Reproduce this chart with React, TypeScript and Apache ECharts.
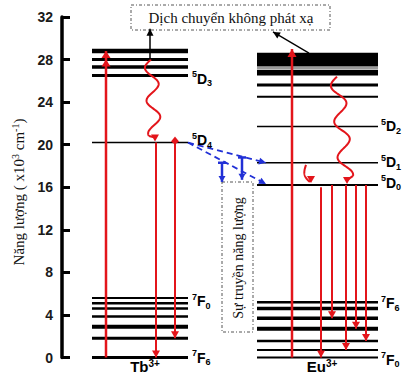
import React, { useEffect, useRef } from "react";
import * as echarts from "echarts";

// ---- data (energies in 10^3 cm^-1) ----
const yMin = 0;
const yMax = 32;
const yStep = 4;

const tbLevels = [0, 1.8, 2.9, 3.85, 4.6, 5.1, 5.6, 20.2, 26.5, 27.3, 28.0, 28.8];
const euLevels = [0, 0.7, 1.55, 2.7, 3.7, 4.6, 5.2, 16.2, 18.3, 21.7, 24.5, 25.6];
const euBand = [
  [26.5, 27.05],
  [27.35, 28.65],
];
const tbExcitation = [0, 28.8];
const tbExcitationHeads = [28.0, 28.8];
const euExcitation = [0, 29.0];
const tbRelaxation = [28.0, 20.3];
const euRelaxation = [26.4, 16.3];
const euD1D0 = [18.1, 16.4];
const tbEmission = [
  [20.2, 0],
  [20.2, 1.8],
];
const euEmission = [
  [16.0, 0],
  [16.2, 3.7],
  [16.2, 0.7],
  [16.2, 2.7],
  [16.2, 1.55],
];
const transferArrows = [
  [20.2, 18.3],
  [20.2, 16.3],
];
const transferBars = [
  [18.3, 16.5],
  [18.8, 16.7],
];
const nonRadTb = [28.0, 30.9];
const nonRadEu = [28.6, 30.6];

const tbLabelNames = ["5|D|3", "5|D|4", "7|F|0", "7|F|6"];
const tbLabelE = [26.2, 20.4, 5.3, 0];
const euLabelNames = ["5|D|2", "5|D|1", "5|D|0", "7|F|6", "7|F|0"];
const euLabelE = [21.75, 18.35, 16.4, 5.1, -0.2];

// ---- layout (x axis spans the page in px) ----
const TB_X = [92, 188];
const EU_X = [257, 378];
const tbThick = [3, 3, 4, 2.5, 2.5, 2.5, 2, 1.5, 3, 3.5, 3, 4.5];
const euThick = [2, 2, 2.5, 4, 3.5, 3.5, 2.5, 2, 1.5, 1.5, 2, 3];
const TB_EXC_X = 106;
const EU_EXC_X = 292;
const TB_EMI_X = [156, 175];
const EU_EMI_X = [321, 332, 346, 356, 366];
const TB_LABEL_X = 192;
const EU_LABEL_X = 381;

const RED = "#e3151b";
const BLUE = "#2130d6";

function App() {
  const ref = useRef<HTMLDivElement>(null);
  useEffect(() => {
    const chart = echarts.init(ref.current!, undefined, { renderer: "svg" });

    const renderAll = (_params: any, api: any) => {
      const c = (x: number, e: number) => api.coord([x, e]);
      const ch: any[] = [];
      const line = (a: number[], b: number[], stroke: string, w: number, dash?: number[]) =>
        ch.push({
          type: "line",
          shape: { x1: a[0], y1: a[1], x2: b[0], y2: b[1] },
          style: { stroke, lineWidth: w, lineDash: dash },
        });
      const head = (tip: number[], from: number[], color: string, len: number, hw: number) => {
        const dx = tip[0] - from[0];
        const dy = tip[1] - from[1];
        const L = Math.hypot(dx, dy) || 1;
        const ux = dx / L, uy = dy / L;
        const nx = -uy, ny = ux;
        const bx = tip[0] - ux * len, by = tip[1] - uy * len;
        ch.push({
          type: "polygon",
          shape: { points: [tip, [bx + nx * hw, by + ny * hw], [bx - nx * hw, by - ny * hw]] },
          style: { fill: color },
        });
      };
      const arrow = (a: number[], b: number[], color: string, w: number, len = 7, hw = 4, dash?: number[]) => {
        line(a, b, color, w, dash);
        head(b, a, color, len, hw);
      };
      const wave = (a: number[], b: number[], amp: number, periods: number, color: string, w: number) => {
        const dx = b[0] - a[0], dy = b[1] - a[1];
        const L = Math.hypot(dx, dy);
        const nx = -dy / L, ny = dx / L;
        const pts: number[][] = [];
        const n = 80;
        for (let i = 0; i <= n; i++) {
          const t = (i / n) * 0.93;
          const s = amp * Math.sin(2 * Math.PI * periods * t);
          pts.push([a[0] + dx * t + nx * s, a[1] + dy * t + ny * s]);
        }
        ch.push({ type: "polyline", shape: { points: pts }, style: { stroke: color, lineWidth: w, fill: null } });
        const last = pts[pts.length - 1];
        line(last, [b[0], b[1] - 4], color, w);
        head(b, [b[0], b[1] - 10], color, 7, 4);
      };

      // Tb levels
      tbLevels.forEach((e, i) => line(c(TB_X[0], e), c(TB_X[1], e), "#000", tbThick[i]));
      // Eu levels
      euLevels.forEach((e, i) => line(c(EU_X[0], e), c(EU_X[1], e), "#000", euThick[i]));
      // Eu dense band
      euBand.forEach(([lo, hi]) => {
        const p = c(EU_X[0], hi);
        const q = c(EU_X[1], lo);
        ch.push({ type: "rect", shape: { x: p[0], y: p[1], width: q[0] - p[0], height: q[1] - p[1] }, style: { fill: "#000" } });
      });
      line(c(EU_X[0], (euBand[0][1] + euBand[1][0]) / 2), c(EU_X[1], (euBand[0][1] + euBand[1][0]) / 2), "#9a9a9a", 2);

      // Tb excitation
      line(c(TB_EXC_X, tbExcitation[0]), c(TB_EXC_X, tbExcitation[1]), RED, 2.5);
      tbExcitationHeads.forEach((e) => head(c(TB_EXC_X, e), c(TB_EXC_X, e - 1), RED, 7, 4.5));
      // Eu excitation
      arrow(c(EU_EXC_X, euExcitation[0]), c(EU_EXC_X, euExcitation[1]), RED, 2.5, 8, 4.5);

      // relaxation waves
      wave(c(151, tbRelaxation[0]), c(155, tbRelaxation[1]), 6.5, 2.5, RED, 2);
      wave(c(337, euRelaxation[0]), c(347, euRelaxation[1]), 7, 3, RED, 2);
      wave(c(306, euD1D0[0]), c(311, euD1D0[1]), 4, 0.5, RED, 2);

      // non-radiative pointers
      arrow(c(150, nonRadTb[0]), c(150, nonRadTb[1]), "#000", 1.5, 7, 3.5);
      arrow(c(309, nonRadEu[0]), c(273, nonRadEu[1]), "#000", 1.3, 7, 3.5);

      // emissions
      tbEmission.forEach(([f, t], i) => arrow(c(TB_EMI_X[i], f), c(TB_EMI_X[i], t), RED, 2, 7, 4));
      euEmission.forEach(([f, t], i) => arrow(c(EU_EMI_X[i], f), c(EU_EMI_X[i], t), RED, 2, 7, 4));
      // small marker on 5D4
      {
        const p = c(TB_EMI_X[1], tbLevels[7]);
        ch.push({ type: "polygon", shape: { points: [[p[0], p[1] - 6], [p[0] + 4, p[1] - 1], [p[0], p[1] + 2], [p[0] - 4, p[1] - 1]] }, style: { fill: RED } });
      }

      // energy transfer
      transferArrows.forEach(([f, t]) => arrow(c(TB_X[1], f), c(EU_X[0] + 9, t), BLUE, 1.8, 7, 3.5, [6, 4]));
      const barX = [222, 242];
      transferBars.forEach(([f, t], i) => {
        const a = c(barX[i], f);
        const b = c(barX[i], t);
        line([a[0] - 4, a[1]], [a[0] + 4, a[1]], BLUE, 2.5);
        arrow(a, b, BLUE, 2.5, 6, 3.5);
      });

      // level labels
      const rich = {
        s: { fontSize: 9, fontWeight: "bold", fontFamily: "Liberation Sans", verticalAlign: "top", lineHeight: 18, fill: "#000" },
        m: { fontSize: 14, fontWeight: "bold", fontFamily: "Liberation Sans", lineHeight: 18, fill: "#000" },
        b: { fontSize: 9, fontWeight: "bold", fontFamily: "Liberation Sans", verticalAlign: "bottom", lineHeight: 14, fill: "#000" },
      };
      const term = (str: string) => {
        const [s, m, b] = str.split("|");
        return `{s|${s}}{m|${m}}{b|${b}}`;
      };
      const label = (x: number, e: number, str: string) => {
        const p = c(x, e);
        ch.push({
          type: "text",
          x: p[0],
          y: p[1],
          style: { text: term(str), rich, verticalAlign: "middle", align: "left" },
        });
      };
      tbLabelNames.forEach((n, i) => label(TB_LABEL_X, tbLabelE[i], n));
      euLabelNames.forEach((n, i) => label(EU_LABEL_X, euLabelE[i], n));

      return { type: "group", children: ch };
    };

    const ionRich = {
      m: { fontSize: 15, fontWeight: "bold", fontFamily: "Liberation Sans", fill: "#000", lineHeight: 16 },
      s: { fontSize: 10, fontWeight: "bold", fontFamily: "Liberation Sans", fill: "#000", verticalAlign: "top", lineHeight: 16 },
    };
    const serifRich = {
      n: { fontSize: 15, fontFamily: "Liberation Serif", fill: "#111", lineHeight: 18 },
      s: { fontSize: 10, fontFamily: "Liberation Serif", fill: "#111", verticalAlign: "top", lineHeight: 18 },
    };

    chart.setOption({
      animation: false,
      grid: { left: 62, right: 0, top: 17, bottom: 16.5, containLabel: false },
      xAxis: { type: "value", min: 62, max: 407, show: false },
      yAxis: {
        type: "value",
        min: yMin,
        max: yMax,
        interval: yStep,
        splitLine: { show: false },
        axisLine: { show: true, lineStyle: { color: "#000", width: 3.5 } },
        axisTick: { show: true, inside: true, length: 8, lineStyle: { color: "#000", width: 3 } },
        axisLabel: { color: "#1a1a1a", fontSize: 14, fontWeight: "bold", fontFamily: "Liberation Sans", margin: 9 },
      },
      graphic: [
        {
          type: "rect",
          shape: { x: 131, y: 5, width: 199, height: 25 },
          style: { fill: "#fff", stroke: "#555", lineWidth: 1, lineDash: [3, 2, 1, 2] },
        },
        {
          type: "text",
          x: 231,
          y: 18,
          style: { text: "Dịch chuyển không phát xạ", font: "15px 'Liberation Serif'", fill: "#111", align: "center", verticalAlign: "middle" },
        },
        {
          type: "rect",
          shape: { x: 222, y: 182, width: 31, height: 150 },
          style: { fill: "none", stroke: "#555", lineWidth: 1, lineDash: [3, 2, 1, 2] },
        },
        {
          type: "text",
          x: 238,
          y: 258,
          rotation: Math.PI / 2,
          style: { text: "Sự truyền năng lượng", font: "14px 'Liberation Serif'", fill: "#111", align: "center", verticalAlign: "middle" },
        },
        {
          type: "text",
          x: 19,
          y: 192,
          rotation: Math.PI / 2,
          style: {
            text: "{n|Năng lượng ( x10}{s|3}{n| cm}{s|-1}{n|)}",
            rich: serifRich,
            align: "center",
            verticalAlign: "middle",
          },
        },
        {
          type: "text",
          x: 145,
          y: 366,
          style: { text: "{m|Tb}{s|3+}", rich: ionRich, align: "center", verticalAlign: "middle" },
        },
        {
          type: "text",
          x: 322,
          y: 366,
          style: { text: "{m|Eu}{s|3+}", rich: ionRich, align: "center", verticalAlign: "middle" },
        },
      ],
      series: [
        {
          type: "custom",
          renderItem: renderAll,
          data: [[62, 0]],
          clip: false,
          silent: true,
        },
      ],
    });

    return () => chart.dispose();
  }, []);

  return <div ref={ref} style={{ position: "absolute", left: 0, top: 0, width: 407, height: 374 }} />;
}

export default App;
